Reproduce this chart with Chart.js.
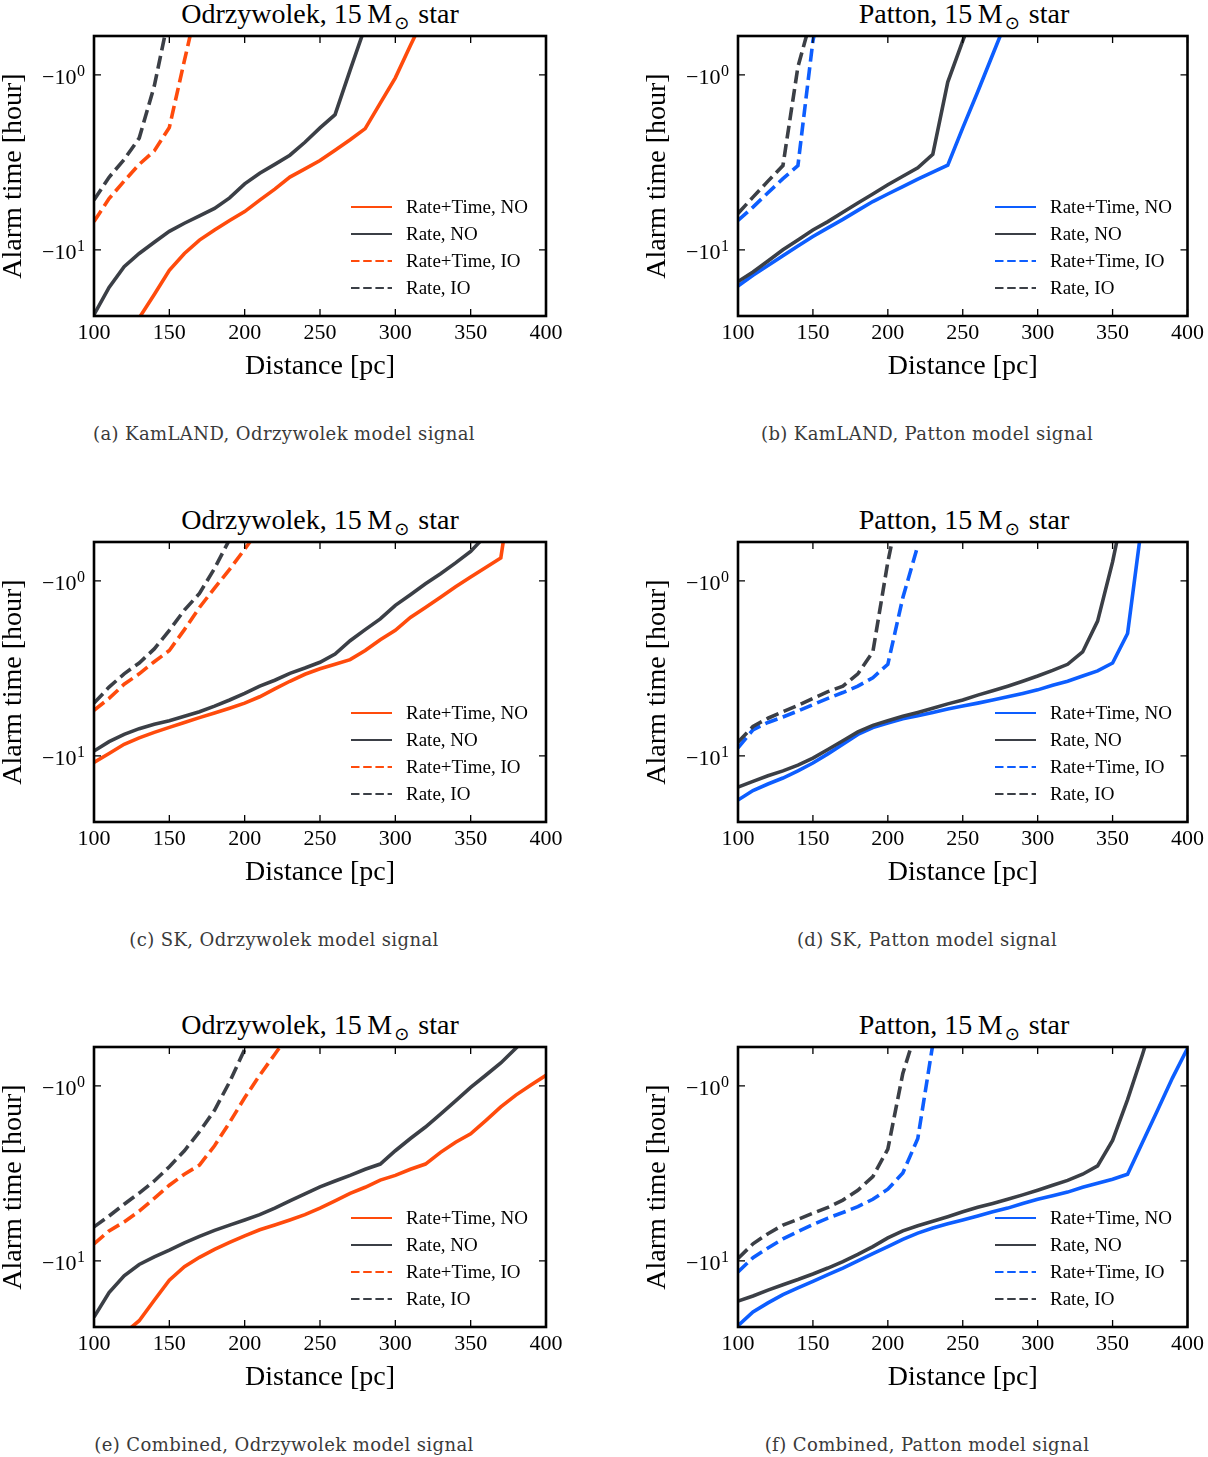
<!DOCTYPE html>
<html>
<head>
<meta charset="utf-8">
<title>Alarm time vs distance</title>
<script src="https://cdn.jsdelivr.net/npm/chart.js@4.4.1/dist/chart.umd.min.js"></script>
<style>
  html, body { margin: 0; padding: 0; background: #fff; overflow: hidden; }
  body { width: 1208px; height: 1457px; position: relative; font-family: 'Liberation Serif', serif; }
  .panel { position: absolute; }
  .panel canvas { position: absolute; left: 0; top: 0; }
  .title { position: absolute; top: 0; left: 94px; width: 452px; text-align: center; font-size: 28px; line-height: 28px; color: #000; white-space: nowrap; }
  .title .sun { font-family: 'DejaVu Sans', sans-serif; font-size: 18px; position: relative; top: 6px; margin-left: 2px; margin-right: 9px; }
  .caption { position: absolute; top: 424px; text-align: center; font-family: 'DejaVu Serif', serif; font-size: 18px; line-height: 20px; letter-spacing: 0.4px; color: #3a3a3a; white-space: nowrap; }
</style>
</head>
<body>
<script>
// distance grid [pc]
const distances = [100, 110, 120, 130, 140, 150, 160, 170, 180, 190, 200, 210, 220, 230, 240, 250,
                   260, 270, 280, 290, 300, 310, 320, 330, 340, 350, 360, 370, 380, 390, 400];
const xTickValues = [100, 150, 200, 250, 300, 350, 400];
const yTickValues = [1, 10];
const yTickBase = '\u221210';
const yTickExponents = ['0', '1'];
const seriesLabels = ['Rate+Time, NO', 'Rate, NO', 'Rate+Time, IO', 'Rate, IO'];

// alarm time magnitude [hour] (the axis shows -t)
// (a) KamLAND, Odrzywolek
const aRtNo = [65, 48, 34, 24.5, 18, 13.1, 10.5, 8.8, 7.7, 6.8, 6.05, 5.2, 4.5, 3.84, 3.45, 3.09, 2.7, 2.35, 2.03, 1.45, 1.04, 0.68, 0.45];
const aRNo = [23.5, 16.4, 12.5, 10.5, 9.05, 7.85, 7.05, 6.4, 5.8, 5.05, 4.2, 3.65, 3.25, 2.88, 2.43, 2.01, 1.69, 0.94, 0.53];
const aRtIo = [6.9, 5.1, 4.05, 3.25, 2.72, 2.0, 0.83, 0.35];
const aRIo = [5.2, 3.85, 3.05, 2.3, 1.16, 0.45];
// (b) KamLAND, Patton
const bRtNo = [16.1, 14.0, 12.3, 10.8, 9.5, 8.4, 7.5, 6.7, 5.95, 5.3, 4.8, 4.35, 3.95, 3.6, 3.28, 2.01, 1.25, 0.765, 0.47];
const bRNo = [15.2, 13.4, 11.6, 10.0, 8.8, 7.7, 6.9, 6.1, 5.4, 4.8, 4.25, 3.8, 3.4, 2.85, 1.1, 0.64, 0.38];
const bRtIo = [6.8, 5.7, 4.72, 3.92, 3.3, 0.64, 0.25];
const bRIo = [6.2, 5.0, 4.05, 3.3, 0.9, 0.44];
// (c) SK, Odrzywolek
const cRtNo = [10.9, 9.7, 8.6, 7.9, 7.35, 6.88, 6.45, 6.05, 5.7, 5.35, 5.0, 4.6, 4.15, 3.75, 3.42, 3.18, 3.0, 2.82, 2.5, 2.17, 1.92, 1.62, 1.42, 1.24, 1.08, 0.95, 0.84, 0.74, 0.2];
const cRNo = [9.4, 8.3, 7.55, 7.0, 6.6, 6.3, 5.95, 5.6, 5.2, 4.8, 4.4, 4.0, 3.7, 3.38, 3.15, 2.92, 2.62, 2.2, 1.9, 1.65, 1.38, 1.2, 1.04, 0.91, 0.79, 0.68, 0.55];
const cRtIo = [5.5, 4.7, 3.9, 3.4, 2.9, 2.5, 1.9, 1.42, 1.1, 0.86, 0.66, 0.5];
const cRIo = [5.0, 4.05, 3.4, 2.95, 2.45, 1.92, 1.47, 1.18, 0.85, 0.58, 0.42];
// (d) SK, Patton
const dRtNo = [17.9, 15.8, 14.5, 13.4, 12.2, 11.0, 9.75, 8.6, 7.55, 6.9, 6.5, 6.15, 5.9, 5.65, 5.4, 5.2, 5.0, 4.8, 4.6, 4.4, 4.2, 3.95, 3.75, 3.5, 3.27, 2.95, 2.0, 0.44];
const dRNo = [15.1, 14.0, 13.0, 12.2, 11.3, 10.3, 9.2, 8.2, 7.3, 6.7, 6.3, 5.95, 5.65, 5.35, 5.05, 4.8, 4.5, 4.25, 4.0, 3.75, 3.5, 3.25, 3.0, 2.55, 1.7, 0.78, 0.3];
const dRtIo = [9.0, 7.1, 6.45, 6.0, 5.55, 5.1, 4.7, 4.35, 4.0, 3.58, 3.0, 1.25, 0.63];
const dRIo = [8.35, 6.8, 6.1, 5.6, 5.15, 4.7, 4.3, 4.0, 3.4, 2.55, 0.78, 0.3];
// (e) Combined, Odrzywolek
const eRtNo = [35, 30, 26, 22, 16.8, 12.9, 10.8, 9.55, 8.6, 7.85, 7.2, 6.65, 6.25, 5.85, 5.45, 5.0, 4.55, 4.12, 3.8, 3.46, 3.25, 3.0, 2.8, 2.4, 2.1, 1.88, 1.58, 1.32, 1.13, 0.99, 0.87];
const eRNo = [21, 15.2, 12.2, 10.5, 9.5, 8.7, 7.9, 7.25, 6.7, 6.25, 5.85, 5.45, 5.0, 4.55, 4.15, 3.78, 3.5, 3.25, 3.0, 2.8, 2.35, 2.0, 1.72, 1.45, 1.22, 1.02, 0.87, 0.74, 0.61, 0.5, 0.42];
const eRtIo = [8.0, 6.75, 6.0, 5.2, 4.4, 3.7, 3.2, 2.84, 2.2, 1.62, 1.17, 0.87, 0.66, 0.5];
const eRIo = [6.4, 5.55, 4.75, 4.1, 3.5, 2.9, 2.35, 1.83, 1.38, 0.95, 0.62, 0.4];
// (f) Combined, Patton
const fRtNo = [23.5, 19.6, 17.4, 15.6, 14.3, 13.1, 12.0, 11.0, 10.0, 9.1, 8.3, 7.55, 6.95, 6.5, 6.15, 5.85, 5.55, 5.25, 5.0, 4.7, 4.45, 4.25, 4.05, 3.8, 3.6, 3.42, 3.2, 2.1, 1.38, 0.9, 0.61];
const fRNo = [17.0, 15.9, 14.7, 13.7, 12.8, 11.9, 11.0, 10.1, 9.2, 8.3, 7.4, 6.75, 6.3, 5.95, 5.6, 5.25, 4.95, 4.7, 4.45, 4.2, 3.95, 3.7, 3.47, 3.2, 2.87, 2.05, 1.2, 0.66, 0.35];
const fRtIo = [11.6, 9.6, 8.45, 7.5, 6.8, 6.2, 5.7, 5.3, 4.9, 4.45, 3.9, 3.15, 2.0, 0.58];
const fRIo = [9.7, 8.0, 7.0, 6.25, 5.8, 5.35, 4.95, 4.5, 3.95, 3.3, 2.3, 0.85, 0.45];

const ORANGE = '#ff4b0c';
const BLUE = '#0d5eff';
const DARK = '#3b3f46';

const panels = [
  { model: 'Odrzywolek', caption: '(a) KamLAND, Odrzywolek model signal', color: ORANGE, series: [aRtNo, aRNo, aRtIo, aRIo] },
  { model: 'Patton', caption: '(b) KamLAND, Patton model signal', color: BLUE, series: [bRtNo, bRNo, bRtIo, bRIo] },
  { model: 'Odrzywolek', caption: '(c) SK, Odrzywolek model signal', color: ORANGE, series: [cRtNo, cRNo, cRtIo, cRIo] },
  { model: 'Patton', caption: '(d) SK, Patton model signal', color: BLUE, series: [dRtNo, dRNo, dRtIo, dRIo] },
  { model: 'Odrzywolek', caption: '(e) Combined, Odrzywolek model signal', color: ORANGE, series: [eRtNo, eRNo, eRtIo, eRIo] },
  { model: 'Patton', caption: '(f) Combined, Patton model signal', color: BLUE, series: [fRtNo, fRNo, fRtIo, fRIo] }
];

const rowTops = [0, 506, 1011];

// frame, inward ticks, y tick labels with exponents, and the in-axes legend
const framePlugin = {
  id: 'frame',
  afterDatasetsDraw(chart) {
    const { ctx, chartArea: a, scales: { x, y } } = chart;
    ctx.save();
    ctx.strokeStyle = '#000';
    ctx.lineWidth = 1.3;
    ctx.beginPath();
    x.ticks.forEach(t => {
      const px = x.getPixelForValue(t.value);
      ctx.moveTo(px, a.bottom); ctx.lineTo(px, a.bottom - 7);
      ctx.moveTo(px, a.top); ctx.lineTo(px, a.top + 7);
    });
    y.ticks.forEach(t => {
      const py = y.getPixelForValue(t.value);
      ctx.moveTo(a.left, py); ctx.lineTo(a.left + 7, py);
      ctx.moveTo(a.right, py); ctx.lineTo(a.right - 7, py);
    });
    ctx.stroke();
    ctx.lineWidth = 2.6;
    ctx.strokeRect(a.left, a.top, a.right - a.left, a.bottom - a.top);

    // y tick labels: -10 with a raised exponent
    ctx.fillStyle = '#000';
    ctx.textAlign = 'right';
    ctx.textBaseline = 'alphabetic';
    y.ticks.forEach(t => {
      const py = y.getPixelForValue(t.value);
      const sup = yTickExponents[yTickValues.indexOf(t.value)];
      ctx.font = '16px "Liberation Serif"';
      const sw = ctx.measureText(sup).width;
      ctx.fillText(sup, a.left - 9, py + 1);
      ctx.font = '22px "Liberation Serif"';
      ctx.fillText(yTickBase, a.left - 9 - sw - 0.5, py + 9);
    });

    // legend
    ctx.textAlign = 'left';
    ctx.font = '19px "Liberation Serif"';
    ctx.textBaseline = 'middle';
    chart.data.datasets.forEach((ds, i) => {
      const ly = a.top + 171 + i * 27;
      ctx.beginPath();
      ctx.strokeStyle = ds.borderColor;
      ctx.lineWidth = 2.2;
      ctx.setLineDash(ds.borderDash.length ? [8.5, 3.7] : []);
      ctx.moveTo(a.left + 257, ly);
      ctx.lineTo(a.left + 298, ly);
      ctx.stroke();
      ctx.setLineDash([]);
      ctx.fillText(ds.label, a.left + 312, ly + 1);
    });
    ctx.restore();
  }
};

panels.forEach((p, k) => {
  const col = k % 2;
  const row = Math.floor(k / 2);
  const left = col ? 644 : 0;
  const width = col ? 564 : 580;

  const div = document.createElement('div');
  div.className = 'panel';
  div.style.left = left + 'px';
  div.style.top = rowTops[row] + 'px';
  div.style.width = width + 'px';
  div.style.height = '460px';

  const title = document.createElement('div');
  title.className = 'title';
  title.innerHTML = p.model + ', 15\u2009M<span class="sun">\u2299</span>star';
  div.appendChild(title);

  const canvas = document.createElement('canvas');
  canvas.width = width;
  canvas.height = 400;
  div.appendChild(canvas);

  const cap = document.createElement('div');
  cap.className = 'caption';
  cap.textContent = p.caption;
  if (col) { cap.style.left = '2px'; cap.style.width = '562px'; }
  else { cap.style.left = '0px'; cap.style.width = '568px'; }
  div.appendChild(cap);

  document.body.appendChild(div);

  const datasets = p.series.map((vals, i) => ({
    label: seriesLabels[i],
    data: vals.map((v, j) => ({ x: distances[j], y: v })),
    borderColor: i % 2 === 0 ? p.color : DARK,
    borderWidth: 3.6,
    borderDash: i >= 2 ? [13, 5.6] : [],
    pointRadius: 0,
    tension: 0,
    fill: false,
    clip: 0,
    order: 4 - i
  }));

  new Chart(canvas.getContext('2d'), {
    type: 'line',
    data: { datasets },
    options: {
      responsive: false,
      animation: false,
      events: [],
      layout: { padding: { top: 36, right: col ? 18 : 34, left: 0, bottom: 0 } },
      plugins: { legend: { display: false }, tooltip: { enabled: false }, title: { display: false } },
      scales: {
        x: {
          type: 'linear',
          min: 100,
          max: 400,
          afterBuildTicks: s => { s.ticks = xTickValues.map(v => ({ value: v })); },
          afterFit: s => { s.height = 84; },
          grid: { drawOnChartArea: false, drawTicks: false },
          border: { display: false },
          ticks: { color: '#000', padding: 4, autoSkip: false, maxRotation: 0, font: { family: 'Liberation Serif', size: 22 } },
          title: { display: true, text: 'Distance [pc]', color: '#000', padding: { top: 0, bottom: 19 }, font: { family: 'Liberation Serif', size: 28, lineHeight: 1 } }
        },
        y: {
          type: 'logarithmic',
          reverse: true,
          min: 0.6,
          max: 23.9,
          afterBuildTicks: s => { s.ticks = yTickValues.map(v => ({ value: v })); },
          afterFit: s => { s.width = 94; },
          grid: { drawOnChartArea: false, drawTicks: false },
          border: { display: false },
          ticks: { display: false },
          title: { display: true, text: 'Alarm time [hour]', color: '#000', padding: { top: 0, bottom: 0 }, font: { family: 'Liberation Serif', size: 28, lineHeight: 1 } }
        }
      }
    },
    plugins: [framePlugin]
  });
});
</script>
</body>
</html>
